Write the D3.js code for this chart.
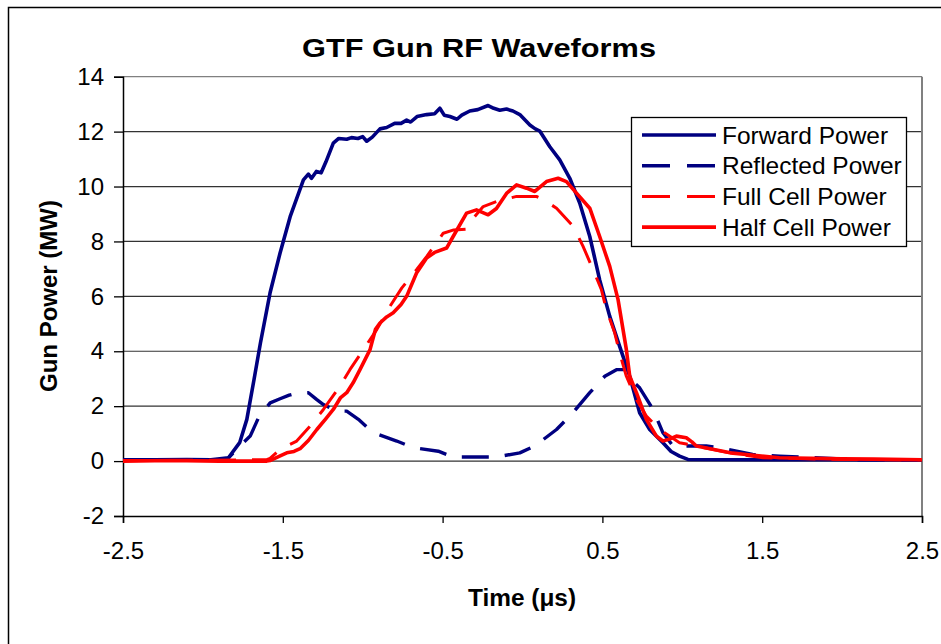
<!DOCTYPE html>
<html lang="en">
<head>
  <meta charset="UTF-8">
  <title>GTF Gun RF Waveforms</title>
  <script src="https://d3js.org/d3.v7.min.js"></script>
  <style>
    body { margin: 0; background: #fff; }
    text { font-family: "Liberation Sans", Arial, sans-serif; fill: #000; }
  </style>
</head>
<body>
  <svg id="chart" width="941" height="644"></svg>

  <script>
    // Forward power (MW) vs time (us)
    const fwdT = [-2.5, -2.3, -2.1, -1.95, -1.84, -1.77, -1.725, -1.68, -1.64, -1.58, -1.517, -1.454, -1.371, -1.34, -1.32, -1.29, -1.26, -1.23, -1.184, -1.15, -1.1, -1.07, -1.03, -1.0, -0.975, -0.94, -0.892, -0.85, -0.8, -0.76, -0.725, -0.7, -0.66, -0.6, -0.55, -0.517, -0.49, -0.454, -0.41, -0.38, -0.33, -0.28, -0.215, -0.18, -0.142, -0.1, -0.06, -0.017, 0.046, 0.08, 0.108, 0.171, 0.233, 0.296, 0.358, 0.421, 0.483, 0.546, 0.608, 0.671, 0.733, 0.796, 0.879, 0.93, 0.983, 1.035, 1.5, 2.0, 2.5];
    const fwdP = [0.05, 0.05, 0.06, 0.05, 0.12, 0.67, 1.52, 2.97, 4.3, 6.12, 7.58, 8.9, 10.24, 10.45, 10.3, 10.55, 10.5, 10.9, 11.58, 11.75, 11.72, 11.78, 11.75, 11.82, 11.65, 11.8, 12.1, 12.15, 12.3, 12.3, 12.42, 12.35, 12.55, 12.62, 12.65, 12.85, 12.6, 12.55, 12.45, 12.6, 12.75, 12.8, 12.95, 12.85, 12.78, 12.82, 12.75, 12.62, 12.24, 12.1, 12.02, 11.45, 10.97, 10.3, 9.4, 8.18, 6.6, 5.27, 4.18, 3.09, 1.76, 1.15, 0.67, 0.35, 0.18, 0.06, 0.05, 0.05, 0.04];

    // Reflected power
    const refT = [-2.5, -2.3, -2.0, -1.85, -1.77, -1.704, -1.652, -1.579, -1.517, -1.46, -1.402, -1.34, -1.287, -1.246, -1.163, -1.1, -1.027, -0.933, -0.787, -0.684, -0.527, -0.434, -0.267, -0.163, -0.017, 0.077, 0.213, 0.306, 0.421, 0.515, 0.588, 0.65, 0.69, 0.733, 0.817, 0.879, 0.942, 1.15, 1.233, 1.44, 1.608, 2.1, 2.5];
    const refP = [0.05, 0.03, 0.05, 0.05, 0.55, 0.91, 1.58, 2.12, 2.27, 2.4, 2.49, 2.49, 2.24, 2.06, 1.82, 1.82, 1.52, 1.03, 0.73, 0.49, 0.36, 0.15, 0.15, 0.15, 0.3, 0.55, 1.15, 1.7, 2.49, 3.09, 3.33, 3.33, 2.9, 2.67, 1.88, 1.03, 0.55, 0.55, 0.49, 0.24, 0.18, 0.05, 0.05];

    // Full cell power
    const fullT = [-2.5, -2.0, -1.6, -1.58, -1.517, -1.413, -1.33, -1.246, -1.142, -1.08, -0.996, -0.912, -0.829, -0.756, -0.663, -0.6, -0.496, -0.43, -0.35, -0.3, -0.246, -0.163, -0.037, 0.087, 0.15, 0.213, 0.317, 0.379, 0.442, 0.494, 0.525, 0.577, 0.608, 0.65, 0.713, 0.775, 0.838, 0.889, 0.983, 1.088, 1.296, 1.504, 2.0, 2.5];
    const fullP = [0.02, 0.03, 0.05, 0.1, 0.43, 0.73, 1.27, 1.88, 2.73, 3.33, 4.06, 4.79, 5.64, 6.3, 6.97, 7.45, 8.3, 8.42, 8.45, 8.9, 9.27, 9.45, 9.64, 9.64, 9.45, 9.21, 8.55, 7.82, 6.97, 6.24, 5.52, 4.67, 3.94, 3.09, 2.24, 1.64, 1.27, 1.03, 0.67, 0.55, 0.3, 0.12, 0.06, 0.05];

    // Half cell power
    const halfT = [-2.5, -2.2, -1.9, -1.6, -1.58, -1.52, -1.475, -1.43, -1.392, -1.34, -1.287, -1.23, -1.184, -1.14, -1.1, -1.06, -1.017, -0.954, -0.92, -0.892, -0.85, -0.809, -0.76, -0.725, -0.663, -0.6, -0.55, -0.475, -0.434, -0.35, -0.288, -0.215, -0.163, -0.1, -0.037, 0.025, 0.077, 0.15, 0.223, 0.275, 0.338, 0.421, 0.483, 0.546, 0.598, 0.65, 0.671, 0.713, 0.775, 0.838, 0.879, 0.92, 0.963, 1.025, 1.06, 1.088, 1.19, 1.3, 1.4, 1.608, 2.0, 2.2, 2.5];
    const halfP = [0.0, 0.02, 0.0, 0.0, 0.02, 0.18, 0.3, 0.35, 0.45, 0.75, 1.15, 1.55, 1.88, 2.3, 2.49, 2.85, 3.33, 4.06, 4.8, 5.03, 5.25, 5.4, 5.7, 6.0, 6.85, 7.4, 7.6, 7.76, 8.18, 9.03, 9.15, 8.97, 9.2, 9.75, 10.06, 9.94, 9.82, 10.18, 10.3, 10.18, 9.76, 9.21, 8.18, 7.09, 5.88, 4.06, 3.09, 2.49, 1.52, 0.91, 0.73, 0.8, 0.91, 0.85, 0.7, 0.55, 0.43, 0.3, 0.24, 0.12, 0.08, 0.07, 0.05];

    const seriesNames = ["Forward Power", "Reflected Power", "Full Cell Power", "Half Cell Power"];
    const yTicks = [-2, 0, 2, 4, 6, 8, 10, 12, 14];
    const xTicks = [-2.5, -1.5, -0.5, 0.5, 1.5, 2.5];

    const series = [
      { name: seriesNames[0], t: fwdT, p: fwdP, color: "#000080", dash: null, width: 3.6 },
      { name: seriesNames[1], t: refT, p: refP, color: "#000080", dash: "27,16", width: 3.4 },
      { name: seriesNames[2], t: fullT, p: fullP, color: "#ff0000", dash: "27,16", width: 3 },
      { name: seriesNames[3], t: halfT, p: halfP, color: "#ff0000", dash: null, width: 3.6 }
    ];

    const svg = d3.select("#chart");

    // outer chart border (right and bottom sit off the picture)
    svg.append("rect")
      .attr("x", 8.5).attr("y", 7.5)
      .attr("width", 960).attr("height", 660)
      .attr("fill", "#fff")
      .attr("stroke", "#000")
      .attr("stroke-width", 1.5);

    const plotLeft = 123, plotRight = 922, plotTop = 76.7, plotBottom = 516;

    const x = d3.scaleLinear().domain([-2.5, 2.5]).range([plotLeft, plotRight]);
    const y = d3.scaleLinear().domain([-2, 14]).range([plotBottom, plotTop]);

    // gridlines
    svg.append("g")
      .selectAll("line")
      .data(yTicks.filter(d => d > -2))
      .enter()
      .append("line")
      .attr("x1", plotLeft).attr("x2", plotRight)
      .attr("y1", d => y(d)).attr("y2", d => y(d))
      .attr("stroke", d => d === 14 ? "#808080" : "#333")
      .attr("stroke-width", 1.2);

    // plot area right edge
    svg.append("line")
      .attr("x1", plotRight).attr("x2", plotRight)
      .attr("y1", plotTop).attr("y2", plotBottom)
      .attr("stroke", "#808080")
      .attr("stroke-width", 2);

    // axes
    const yAxis = svg.append("g")
      .attr("transform", `translate(${plotLeft},0)`)
      .call(d3.axisLeft(y).tickValues(yTicks).tickSize(9).tickPadding(10));
    const xAxis = svg.append("g")
      .attr("transform", `translate(0,${plotBottom})`)
      .call(d3.axisBottom(x).tickValues(xTicks).tickSize(7).tickPadding(19));

    [yAxis, xAxis].forEach(g => {
      g.select(".domain").attr("stroke", "#000").attr("stroke-width", 1.5);
      g.selectAll(".tick line").attr("stroke", "#000").attr("stroke-width", 1.3);
      g.selectAll(".tick text")
        .style("font-family", "'Liberation Sans', Arial, sans-serif")
        .style("font-size", "24px")
        .attr("fill", "#000");
    });
    xAxis.selectAll(".tick text").text(d => d.toFixed(1));
    yAxis.selectAll(".tick text").text(d => String(d));

    // clip for data lines
    svg.append("clipPath").attr("id", "plotclip")
      .append("rect")
      .attr("x", plotLeft).attr("y", plotTop - 2)
      .attr("width", plotRight - plotLeft).attr("height", plotBottom - plotTop + 2);

    const line = d3.line()
      .x(d => x(d[0]))
      .y(d => y(d[1]));

    const plot = svg.append("g").attr("clip-path", "url(#plotclip)");
    series.forEach(s => {
      plot.append("path")
        .datum(s.t.map((t, i) => [t, s.p[i]]))
        .attr("d", line)
        .attr("fill", "none")
        .attr("stroke", s.color)
        .attr("stroke-width", s.width)
        .attr("stroke-linejoin", "round")
        .attr("stroke-dasharray", s.dash);
    });

    // title
    svg.append("text")
      .attr("x", 302).attr("y", 48).attr("dy", "0.35em")
      .attr("textLength", 354)
      .attr("lengthAdjust", "spacingAndGlyphs")
      .style("font-size", "26px")
      .style("font-weight", "bold")
      .text("GTF Gun RF Waveforms");

    // y axis title
    svg.append("text")
      .attr("transform", "translate(49,296) rotate(-90)")
      .attr("dy", "0.35em")
      .attr("text-anchor", "middle")
      .style("font-size", "24px")
      .style("font-weight", "bold")
      .text("Gun Power (MW)");

    // x axis title
    svg.append("text")
      .attr("x", 468).attr("y", 598).attr("dy", "0.35em")
      .attr("textLength", 108)
      .attr("lengthAdjust", "spacingAndGlyphs")
      .style("font-size", "24px")
      .style("font-weight", "bold")
      .text("Time (\u03bcs)");

    // legend
    const legend = svg.append("g");
    legend.append("rect")
      .attr("x", 631.5).attr("y", 117.5)
      .attr("width", 275).attr("height", 129)
      .attr("fill", "#fff")
      .attr("stroke", "#000")
      .attr("stroke-width", 1.3);

    const rows = legend.selectAll("g.row")
      .data(series)
      .enter()
      .append("g")
      .attr("class", "row")
      .attr("transform", (d, i) => `translate(0,${135 + i * 30.7})`);
    rows.append("line")
      .attr("x1", 642).attr("x2", 716)
      .attr("stroke", d => d.color)
      .attr("stroke-width", d => d.width)
      .attr("stroke-dasharray", d => d.dash ? "28,17" : null);
    rows.append("text")
      .attr("x", 722).attr("dy", "0.35em")
      .style("font-size", "24.5px")
      .text(d => d.name);
  </script>
</body>
</html>
